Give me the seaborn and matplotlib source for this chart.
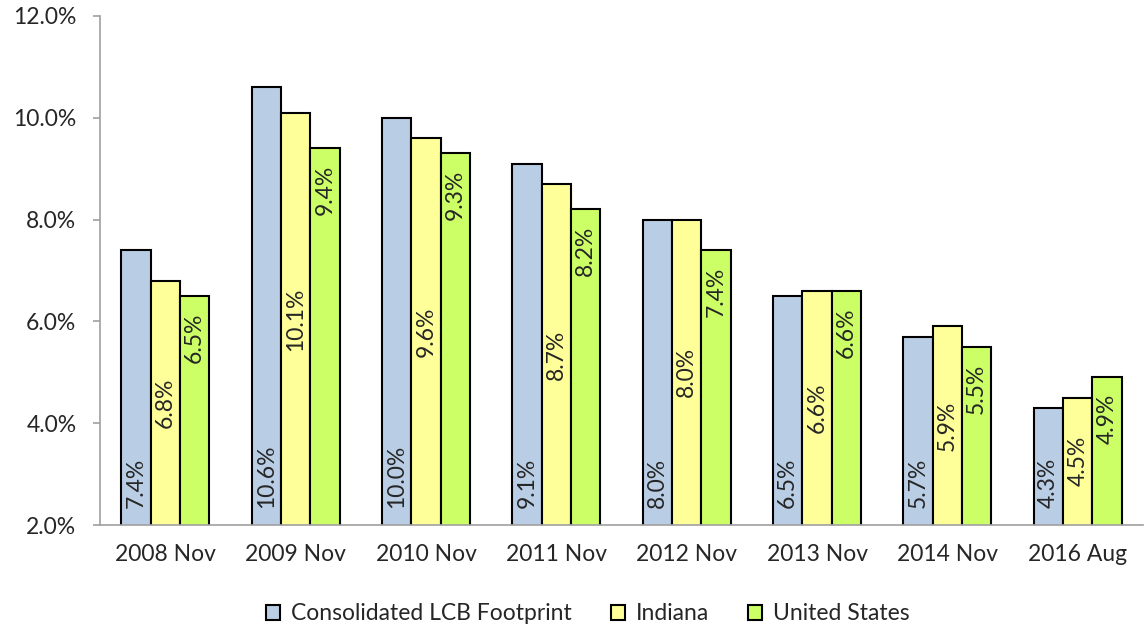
import pandas as pd
import numpy as np
import matplotlib
matplotlib.use("Agg")
import matplotlib.pyplot as plt
import seaborn as sns

# Chart data
periods = ["2008 Nov", "2009 Nov", "2010 Nov", "2011 Nov",
           "2012 Nov", "2013 Nov", "2014 Nov", "2016 Aug"]
series_names = ["Consolidated LCB Footprint", "Indiana", "United States"]
lcb = [7.4, 10.6, 10.0, 9.1, 8.0, 6.5, 5.7, 4.3]
indiana = [6.8, 10.1, 9.6, 8.7, 8.0, 6.6, 5.9, 4.5]
us = [6.5, 9.4, 9.3, 8.2, 7.4, 6.6, 5.5, 4.9]
colors = ["#B9CDE5", "#FFFF99", "#CCFF66"]

df = pd.DataFrame({
    "period": periods * 3,
    "rate": lcb + indiana + us,
    "series": [s for s in series_names for _ in periods],
})

sns.set_style("white")
plt.rcParams["font.family"] = ["Lato", "DejaVu Sans"]
fs = 16.5

fig = plt.figure(figsize=(11.44, 6.28), dpi=100)
ax = fig.add_axes([100 / 1144, 1 - 525 / 628, 1043 / 1144, (525 - 16) / 628])

sns.barplot(data=df, x="period", y="rate", hue="series", palette=colors,
            edgecolor="black", linewidth=1.5, width=0.675, gap=0,
            saturation=1, ax=ax)

ax.set_ylim(2, 12)
ax.set_xlim(-0.5, len(periods) - 0.5)
ax.set_yticks(np.arange(2, 12.1, 2))
ax.set_yticklabels([f"{v:.1f}%" for v in np.arange(2, 12.1, 2)], fontsize=fs)
ax.set_xticks(range(len(periods)))
ax.set_xticklabels(periods, fontsize=fs)
ax.set_xticks(np.arange(-0.5, len(periods), 1), minor=True)
ax.tick_params(axis="x", which="major", length=0, pad=14)
ax.tick_params(axis="x", which="minor", length=5, color="#A0A0A0", width=1.2)
ax.tick_params(axis="y", length=5, color="#A0A0A0", width=1.2, pad=12, left=True)
ax.set_xlabel("")
ax.set_ylabel("")

for side in ["top", "right"]:
    ax.spines[side].set_visible(False)
for side in ["left", "bottom"]:
    ax.spines[side].set_color("#A0A0A0")
    ax.spines[side].set_linewidth(1.2)

# Value labels: LCB at base, Indiana centred, US at the top
for i, cont in enumerate(ax.containers):
    for bar in cont:
        h = bar.get_height()
        xc = bar.get_x() + bar.get_width() / 2
        txt = f"{h:.1f}%"
        if i == 0:
            ax.annotate(txt, (xc, 2), xytext=(0, 12), textcoords="offset points",
                        ha="center", va="bottom", rotation=90, fontsize=fs)
        elif i == 1:
            ax.text(xc, (h + 2) / 2, txt, ha="center", va="center",
                    rotation=90, fontsize=fs)
        else:
            ax.annotate(txt, (xc, h), xytext=(0, -12), textcoords="offset points",
                        ha="center", va="top", rotation=90, fontsize=fs)

ax.legend(loc="center", bbox_to_anchor=(588 / 1144, 1 - 614 / 628),
          bbox_transform=fig.transFigure, ncol=3,
          frameon=False, fontsize=fs, handlelength=0.6, handleheight=0.6,
          columnspacing=1.7, handletextpad=0.5)

plt.savefig("out.png", dpi=100)
plt.close()
